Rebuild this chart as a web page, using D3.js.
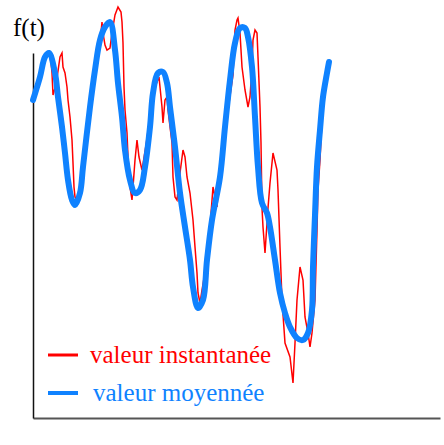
<!DOCTYPE html>
<html>
<head>
<meta charset="utf-8">
<style>
  body { margin: 0px; background: #fff; }
</style>
</head>
<body>
<script src="https://cdn.jsdelivr.net/npm/d3@7/dist/d3.min.js"></script>
<script>

// *** DATA ***

// instantaneous value (t, f)
var tInst = [0,3,7,11,16,18,19,20,22,24,27,29,30,32,34,35,37,39,40,41,42,44,47,52,55,57,59,62,65,67,69,70,72,74,77,79,82,85,88,89,90,91,92,94,95,97,99,100,102,104,106,109,113,117,122,126,129,130,132,134,135,139,140,142,144,147,150,152,154,157,160,162,164,165,167,169,172,176,180,184,185,189,195,200,202,204,205,207,209,212,215,217,219,220,222,224,225,227,228,229,230,232,234,235,237,240,244,245,247,249,252,257,260,262,264,267,270,272,275,277,279,282,284,285,287,289,292];
var fInst = [315,323,343,358,365,356,345,323,330,340,361,365,351,345,331,318,301,278,255,231,221,218,233,268,298,315,335,348,366,375,396,385,373,368,370,385,403,411,406,396,375,331,308,285,261,231,218,231,258,278,261,248,273,301,331,341,311,295,318,321,308,275,241,221,218,245,268,261,241,225,198,171,145,125,115,128,146,178,231,211,225,268,308,343,388,398,400,385,351,328,311,321,351,378,388,385,361,311,275,210,191,165,195,210,235,265,248,228,171,118,75,61,35,75,118,151,138,101,85,71,85,118,188,228,258,298,345];

// mean value (t, f)
var tMean = [0,7,12,16,22,25,29,32,35,39,42,47,50,57,62,67,72,77,82,85,89,92,97,102,107,112,117,120,125,130,134,137,142,147,152,157,160,165,170,174,179,187,192,197,202,207,212,215,219,222,225,229,234,237,242,247,252,257,264,270,275,279,280,282,284,287,290,294,296];
var fMean = [318,341,361,365,345,321,291,265,238,218,213,225,251,311,348,378,391,396,368,335,301,268,238,225,228,251,291,325,345,346,335,311,271,225,191,158,131,110,118,158,198,241,291,338,375,390,390,381,351,301,251,215,205,191,158,125,105,91,80,78,85,108,151,203,251,288,321,345,356];

var legendLabels = ["valeur instantanée", "valeur moyennée"];
var axisLabel = "f(t)";

var serif = "Times New Roman, Times, Liberation Serif, DejaVu Serif, Noto Serif, serif";

// *** SCALES ***

var W = 444, H = 445;

var x = d3.scaleLinear().domain([0, 407]).range([33, 440]);
var y = d3.scaleLinear().domain([0, 365]).range([418, 53]);

var svg = d3.select("body").append("svg")
  .attr("width", W)
  .attr("height", H)
  .attr("font-family", serif);

// axes (no ticks, just the lines)
svg.append("g")
  .attr("transform", "translate(0," + y(0) + ")")
  .call(d3.axisBottom(x).ticks(0).tickSizeOuter(0))
  .select(".domain")
  .attr("stroke", "#555")
  .attr("stroke-width", 2);

svg.append("g")
  .attr("transform", "translate(" + x(0) + ",0)")
  .call(d3.axisLeft(y).ticks(0).tickSizeOuter(0))
  .select(".domain")
  .attr("stroke", "#111")
  .attr("stroke-width", 1.5);

svg.append("text")
  .attr("x", 13)
  .attr("y", 36)
  .attr("font-family", serif)
  .attr("font-size", 25)
  .attr("fill", "#000")
  .text(axisLabel);

// *** LINES ***

var inst = tInst.map(function(t, i){ return [t, fInst[i]]; });
var mean = tMean.map(function(t, i){ return [t, fMean[i]]; });

var lineInst = d3.line()
  .x(function(d){ return x(d[0]); })
  .y(function(d){ return y(d[1]); });

var lineMean = d3.line()
  .curve(d3.curveCatmullRom.alpha(0.5))
  .x(function(d){ return x(d[0]); })
  .y(function(d){ return y(d[1]); });

svg.append("path")
  .datum(inst)
  .attr("d", lineInst)
  .attr("fill", "none")
  .attr("stroke", "#ff0000")
  .attr("stroke-width", 1.5);

svg.append("path")
  .datum(mean)
  .attr("d", lineMean)
  .attr("fill", "none")
  .attr("stroke", "#0f82ff")
  .attr("stroke-width", 6)
  .attr("stroke-linejoin", "round")
  .attr("stroke-linecap", "round");

// *** LEGEND ***

var legColors = ["#ff0000", "#0f82ff"];
var legWidths = [3, 4];
var legX = [90, 93];

var leg = svg.selectAll(".leg").data(legendLabels)
  .enter().append("g")
  .attr("class", "leg")
  .attr("transform", function(d, i){ return "translate(0," + (355 + i * 38) + ")"; });

leg.append("line")
  .attr("x1", 48).attr("x2", 78)
  .attr("y1", 0).attr("y2", 0)
  .attr("stroke", function(d, i){ return legColors[i]; })
  .attr("stroke-width", function(d, i){ return legWidths[i]; });

leg.append("text")
  .attr("x", function(d, i){ return legX[i]; })
  .attr("y", 8)
  .attr("font-family", serif)
  .attr("font-size", 25)
  .attr("fill", function(d, i){ return legColors[i]; })
  .text(function(d){ return d; });

</script>
</body>
</html>
